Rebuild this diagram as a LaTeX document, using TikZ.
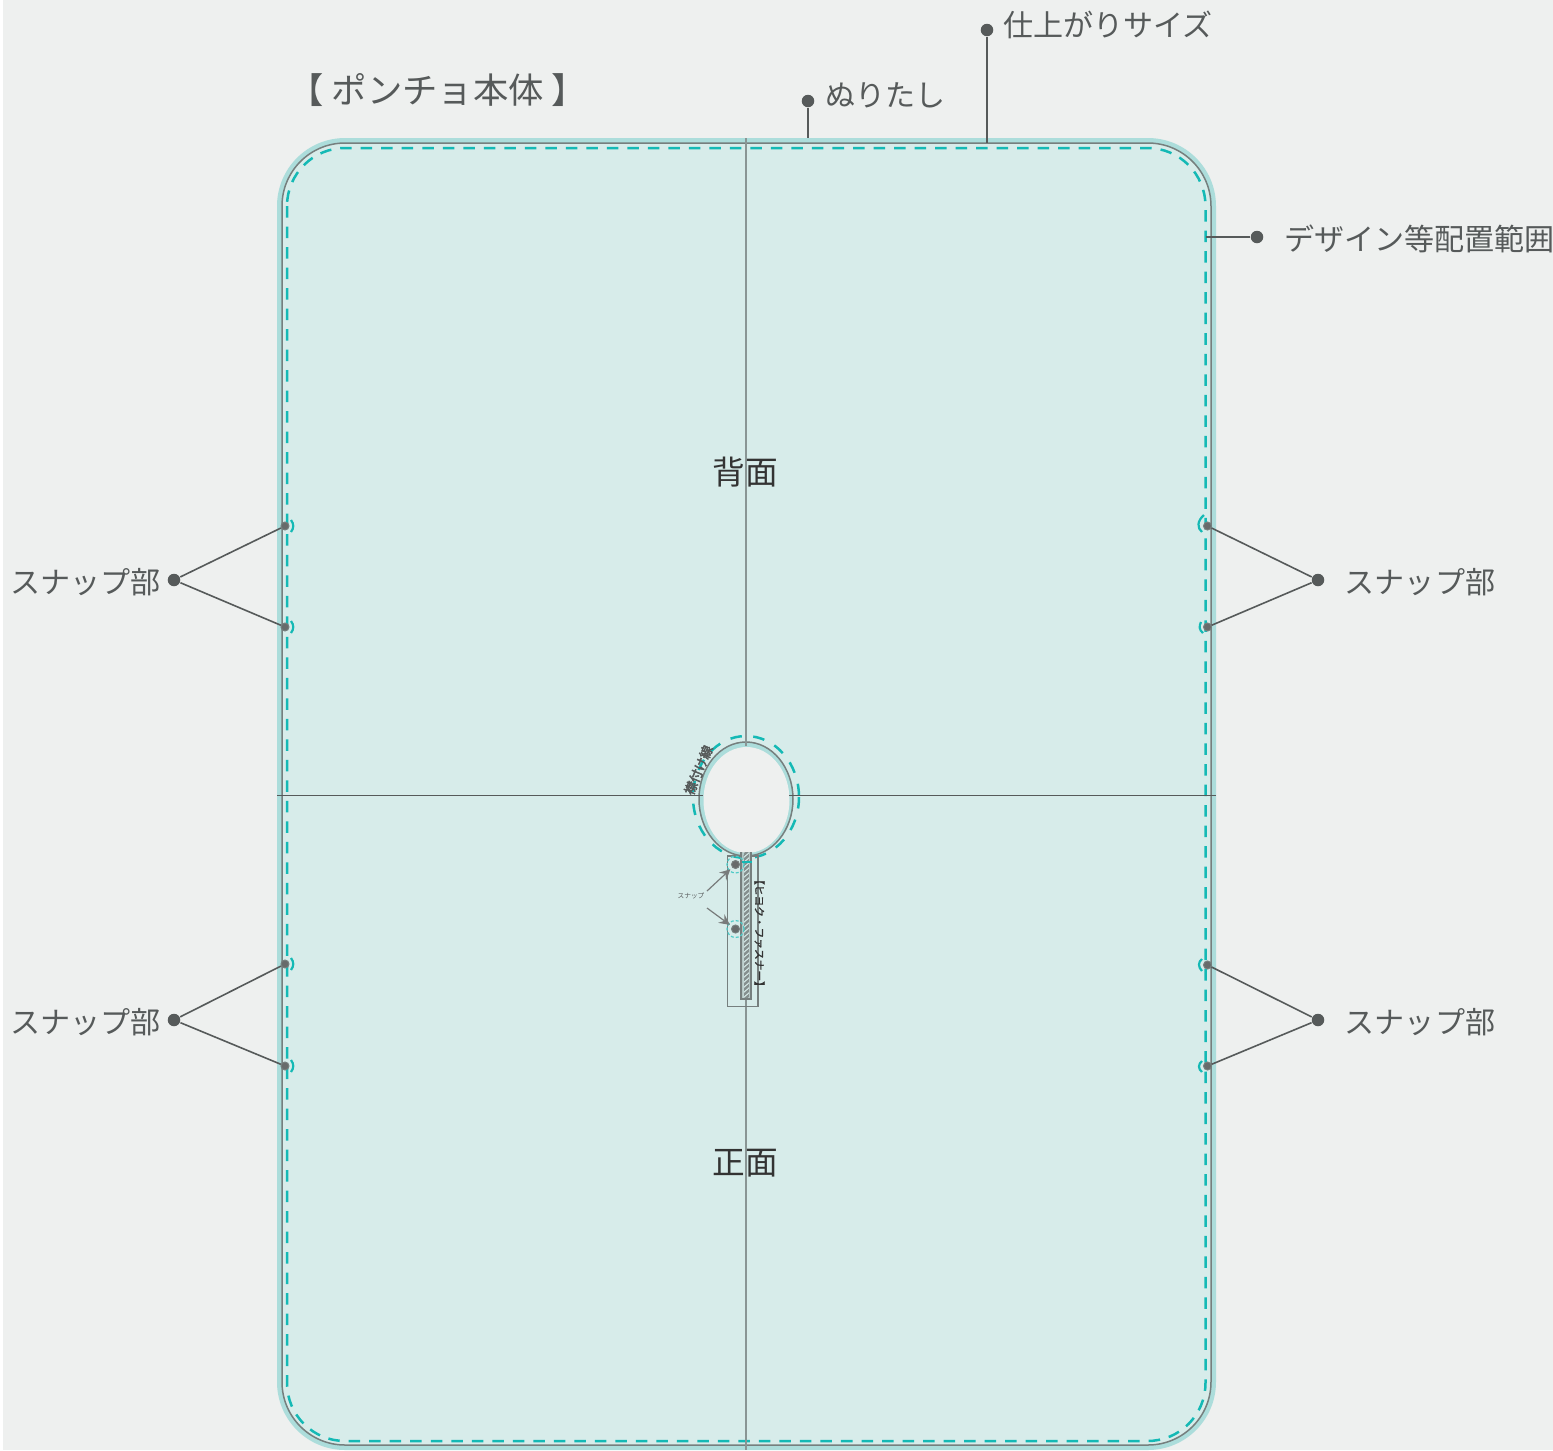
\documentclass[tikz,border=0pt]{standalone}
\usepackage{fontspec}
\setmainfont{Noto Sans CJK JP}
\newfontfamily\heavyfont[FakeBold=3.5]{Noto Sans CJK JP}
\newfontfamily\zipfont[FakeBold=1.5]{Noto Sans CJK JP}
\usetikzlibrary{arrows,shapes.geometric}
\definecolor{paper}{HTML}{EEF0EF}
\definecolor{bleed}{HTML}{ACDDDB}
\definecolor{body}{HTML}{D7ECEA}
\definecolor{trim}{HTML}{767F7E}
\definecolor{seam}{HTML}{14B9B5}
\definecolor{ink}{HTML}{565A5A}
\newcommand{\px}[1]{\fontsize{#1}{#1}\selectfont}

\begin{document}
\begin{tikzpicture}[x=0.01cm,y=-0.01cm,inner sep=0pt]
\tikzstyle{dot}=[circle,fill=ink,minimum size=0.125cm]
\tikzstyle{snap}=[circle,fill=ink!90,draw=trim,line width=0.01cm,minimum size=0.08cm]
\tikzstyle{caption}=[text=ink,font=\px{8.55pt}]
\tikzstyle{title}=[text=black!80,font=\px{9.3pt}]
\tikzstyle{leader}=[draw=ink,line width=0.016cm]
\tikzstyle{pointer}=[-stealth,draw=ink!80,line width=0.012cm,shorten >=0.025cm]
\tikzstyle{stitch}=[draw=seam,line width=0.025cm,dash pattern=on 0.115cm off 0.09cm]
\tikzstyle{hook}=[draw=seam,line width=0.022cm]
\useasboundingbox (0,0) rectangle (1553,1450);
\fill[white] (0,0) rectangle (1553,1450);
\fill[paper] (3,0) rectangle (1553,1450);

% sheet
\fill[bleed,rounded corners=0.68cm] (277,138) rectangle (1216,1450);
\draw[fill=body,draw=trim,line width=0.015cm,rounded corners=0.63cm] (282,143) rectangle (1211,1445);
\draw[stitch,rounded corners=0.58cm] (287,148) rectangle (1205.5,1441);

% neck
\draw[stitch,dash pattern=on 0.115cm off 0.115cm] (746,797) ellipse [x radius=53,y radius=61];
\draw[fill=bleed,draw=trim,line width=0.015cm] (746,799) ellipse [x radius=47,y radius=57];
\fill[paper] (746.5,800) ellipse [x radius=43,y radius=53];

% fold lines
\draw[trim!80!body,line width=0.02cm] (746,138) -- (746,746) (746,852) -- (746,1450);
\draw[ink,line width=0.008cm] (277,795.5) -- (703,795.5) (789,795.5) -- (1216,795.5);

% zip
\draw[trim,line width=0.012cm] (727.5,856) rectangle (758,1006.5);
\begin{scope}
\clip (743.5,852) rectangle (749,999);
\fill[trim!85!body] (743.5,852) rectangle (749,999);
\foreach \y in {850,855,...,1002}
    \draw[body,line width=0.01cm] (743,\y+3) -- (750,\y-3);
\end{scope}
\fill[body!65!trim] (741.5,852) rectangle (743.5,999) (749,852) rectangle (750.5,999);
\draw[trim,line width=0.012cm] (741,852) -- (741,999) -- (751,999) -- (751,852);
\draw[seam!75,line width=0.012cm,dash pattern=on 0.03cm off 0.02cm] (735.5,864.5) circle [radius=8.5] (735.5,929) circle [radius=8.5];
\draw[seam,line width=0.016cm] (742,862) -- (752,862);

% snaps on the zip
\node[snap] (frontA) at (735.5,864.5) {};
\node[snap] (frontB) at (735.5,929) {};
\node[text=ink,font=\px{1.9pt}] (snaptext) at (691,896) {スナップ};
\coordinate (snaptextA) at (707,891);
\coordinate (snaptextB) at (707,908);
\path (snaptextA) edge[pointer] (frontA)
    (snaptextB) edge[pointer] (frontB);

% snaps on the edges
\node[snap] (leftA) at (285,526) {};
\node[snap] (leftB) at (285,627) {};
\node[snap] (leftC) at (285,964) {};
\node[snap] (leftD) at (285,1066) {};
\node[snap] (rightA) at (1207.5,526) {};
\node[snap] (rightB) at (1207.5,627) {};
\node[snap] (rightC) at (1207.5,965) {};
\node[snap] (rightD) at (1207.5,1066) {};
\foreach \y in {526,627,964,1066}
    \draw[hook] (291,\y-6) .. controls (294,\y-2) and (294,\y+2) .. (291,\y+6);
\draw[hook] (1204,515) .. controls (1197,521) and (1197,528) .. (1202,532);
\draw[hook] (1201,622) .. controls (1199,626) and (1199,630) .. (1203,633);
\draw[hook] (1202,959) .. controls (1198,962) and (1198,967) .. (1202,971);
\draw[hook] (1202,1061) .. controls (1198,1064) and (1198,1069) .. (1202,1072);

% leaders
\node[dot] (hubA) at (174,580) {};
\node[dot] (hubB) at (174,1020) {};
\node[dot] (hubC) at (1318,580) {};
\node[dot] (hubD) at (1318,1020) {};
\path[leader] (hubA) edge (leftA)
            edge (leftB)
    (hubB)  edge (leftC)
            edge (leftD)
    (hubC)  edge (rightA)
            edge (rightB)
    (hubD)  edge (rightC)
            edge (rightD);

\node[dot] (bleedDot) at (808,101) {};
\node[dot] (sizeDot) at (987,30) {};
\node[dot] (areaDot) at (1257,237) {};
\coordinate (bleedEnd) at (808,138);
\coordinate (sizeEnd) at (987,143);
\coordinate (areaEnd) at (1206,237);
\path[leader] (bleedDot) edge (bleedEnd)
    (sizeDot) edge (sizeEnd)
    (areaDot) edge (areaEnd);

% labels
\node[caption] (snapA) at (85.5,582.5) {スナップ部};
\node[caption] (snapB) at (85.5,1022.5) {スナップ部};
\node[caption] (snapC) at (1420,582.5) {スナップ部};
\node[caption] (snapD) at (1420,1022.5) {スナップ部};
\node[caption,anchor=west] (size) at (1002.5,24.5) {仕上がりサイズ};
\node[caption,anchor=west] (bleedText) at (824.5,95) {ぬりたし};
\node[caption,anchor=west] (area) at (1283.5,238.5) {デザイン等配置範囲};
\node[text=ink,font=\px{10.05pt}] (heading) at (438,90) {【 ポンチョ本体 】};
\node[title] (back) at (745.5,472.5) {背面};
\node[title] (front) at (745.5,1163.5) {正面};
\node[text=black!80,font=\zipfont\px{3.05pt},rotate=-90] (zip) at (759.5,933) {【ヒヨク・ファスナー】};
\node[text=ink,font=\heavyfont\px{3.7pt},rotate=67] (collar) at (698.5,770) {襟付け線};
\end{tikzpicture}
\end{document}
